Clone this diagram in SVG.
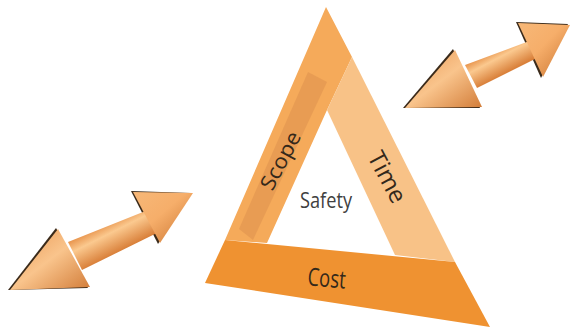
<svg xmlns="http://www.w3.org/2000/svg" width="571" height="328" viewBox="0 0 571 328">
<defs>
<linearGradient id="shaftL" gradientUnits="userSpaceOnUse" x1="68" y1="242" x2="82" y2="270">
<stop offset="0" stop-color="#E8944C"/><stop offset="0.35" stop-color="#FBC98F"/><stop offset="1" stop-color="#D9803A"/>
</linearGradient>
<linearGradient id="shaftR" gradientUnits="userSpaceOnUse" x1="465" y1="65" x2="477" y2="88">
<stop offset="0" stop-color="#E8944C"/><stop offset="0.35" stop-color="#FBC98F"/><stop offset="1" stop-color="#D9803A"/>
</linearGradient>
<linearGradient id="head" x1="0" y1="0" x2="1" y2="1">
<stop offset="0" stop-color="#F7B878"/><stop offset="0.45" stop-color="#F6AE6A"/><stop offset="1" stop-color="#C9732F"/>
</linearGradient>
<linearGradient id="head2" x1="0" y1="0" x2="1" y2="1">
<stop offset="0" stop-color="#E99650"/><stop offset="0.5" stop-color="#F9C48C"/><stop offset="1" stop-color="#D27C38"/>
</linearGradient>
<style>
.lbl{font-family:"Open Sans","Liberation Sans",sans-serif;fill:#33281a}
.shadow{fill:#3a2a1a}
</style>
</defs>

<g id="arrow-left">
<polygon class="shadow" points="8,290 56,228 88,288"/>
<polygon class="shadow" points="131,191 191,193 158,244"/>
<polygon points="68,242 153,208 163,230 82,270" fill="url(#shaftL)"/>
<polygon points="10,290 58,229 90,287" fill="url(#head2)"/>
<polygon points="133,192 193,193 160,243" fill="url(#head)"/>
</g>

<g id="arrow-right">
<polygon class="shadow" points="403,108 453,49 480,108"/>
<polygon class="shadow" points="516,22 568,24 541,78"/>
<polygon points="465,65 540,37 547,53 477,88" fill="url(#shaftR)"/>
<polygon points="405,108 455,50 482,107" fill="url(#head2)"/>
<polygon points="518,23 570,25 543,77" fill="url(#head)"/>
</g>

<g id="triangle">
<g id="scope">
<polygon points="326,7 352,57 327,110 267,243 225,240" fill="#F5AA5A"/>
<polygon points="308,72 327,82 253,240 239,229" fill="#E59A52" opacity="0.85"/>
<text class="lbl" font-size="21" text-anchor="middle" textLength="63" lengthAdjust="spacingAndGlyphs" transform="translate(287,164) rotate(-62)">Scope</text>
</g>
<g id="time">
<polygon points="352,57 455,262 395,255 327,110" fill="#F8C287"/>
<text class="lbl" font-size="24" text-anchor="middle" textLength="55" lengthAdjust="spacingAndGlyphs" transform="translate(380,181) rotate(62)">Time</text>
</g>
<g id="cost">
<polygon points="225,240 455,262 490,327 205,283" fill="#EF9231"/>
<text class="lbl" font-size="25" text-anchor="middle" textLength="38" lengthAdjust="spacingAndGlyphs" transform="translate(326,287) rotate(5)">Cost</text>
</g>
<g id="safety">
<text font-family="Open Sans, Liberation Sans, sans-serif" font-size="21" fill="#404040" text-anchor="middle" textLength="52" lengthAdjust="spacingAndGlyphs" x="326" y="208">Safety</text>
</g>
</g>
</svg>
